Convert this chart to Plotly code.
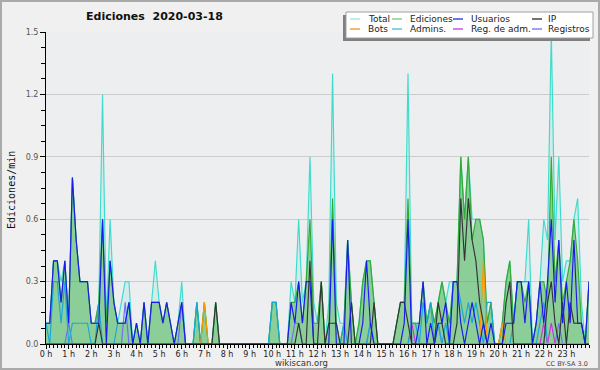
import plotly.graph_objects as go

# ---- data: edits per minute, 10-minute buckets from 0 h to 24 h (145 points) ----
n_points = 145
times = [i / 6 for i in range(n_points)]

total = [
    0.1, 0.1, 0.4, 0.4, 0.3, 0.4,   # 0 h
    0.1, 0.8, 0.5, 0.3, 0.3, 0.3,   # 1 h
    0.1, 0.1, 0.2, 1.2, 0.1, 0.6,   # 2 h
    0.2, 0.1, 0.2, 0.3, 0.3, 0.0,   # 3 h
    0.1, 0.0, 0.2, 0.0, 0.2, 0.4,   # 4 h
    0.2, 0.1, 0.2, 0.1, 0.0, 0.1,   # 5 h
    0.3, 0.0, 0.0, 0.0, 0.2, 0.0,   # 6 h
    0.2, 0.0, 0.0, 0.2, 0.0, 0.0,   # 7 h
    0.0, 0.0, 0.0, 0.0, 0.0, 0.0,   # 8 h
    0.0, 0.0, 0.0, 0.0, 0.0, 0.0,   # 9 h
    0.2, 0.2, 0.0, 0.0, 0.0, 0.3,   # 10 h
    0.2, 0.6, 0.2, 0.3, 0.9, 0.2,   # 11 h
    0.1, 0.3, 0.0, 0.2, 1.3, 0.2,   # 12 h
    0.1, 0.1, 0.5, 0.2, 0.0, 0.1,   # 13 h
    0.3, 0.4, 0.4, 0.2, 0.0, 0.0,   # 14 h
    0.0, 0.0, 0.0, 0.1, 0.2, 0.2,   # 15 h
    1.3, 0.1, 0.1, 0.1, 0.3, 0.1,   # 16 h
    0.2, 0.1, 0.2, 0.3, 0.2, 0.3,   # 17 h
    0.3, 0.3, 0.9, 0.6, 0.9, 0.6,   # 18 h
    0.6, 0.6, 0.5, 0.1, 0.2, 0.0,   # 19 h
    0.0, 0.1, 0.3, 0.4, 0.1, 0.3,   # 20 h
    0.3, 0.3, 0.6, 0.0, 0.1, 0.3,   # 21 h
    0.6, 0.5, 1.5, 0.5, 0.9, 0.3,   # 22 h
    0.4, 0.4, 0.6, 0.7, 0.2, 0.0,   # 23 h
    0.3,
]

ediciones = [
    0.1, 0.1, 0.4, 0.4, 0.2, 0.4,
    0.1, 0.8, 0.5, 0.3, 0.3, 0.3,
    0.1, 0.1, 0.2, 0.6, 0.1, 0.4,
    0.2, 0.1, 0.1, 0.1, 0.2, 0.0,
    0.1, 0.0, 0.2, 0.0, 0.2, 0.2,
    0.2, 0.1, 0.2, 0.1, 0.0, 0.1,
    0.2, 0.0, 0.0, 0.0, 0.2, 0.0,
    0.2, 0.0, 0.0, 0.2, 0.0, 0.0,
    0.0, 0.0, 0.0, 0.0, 0.0, 0.0,
    0.0, 0.0, 0.0, 0.0, 0.0, 0.0,
    0.2, 0.2, 0.0, 0.0, 0.0, 0.2,
    0.2, 0.3, 0.1, 0.3, 0.6, 0.1,
    0.1, 0.3, 0.0, 0.1, 0.7, 0.1,
    0.0, 0.1, 0.5, 0.2, 0.0, 0.1,
    0.3, 0.4, 0.4, 0.2, 0.0, 0.0,
    0.0, 0.0, 0.0, 0.1, 0.2, 0.2,
    0.7, 0.1, 0.1, 0.1, 0.3, 0.1,
    0.2, 0.1, 0.2, 0.3, 0.2, 0.1,
    0.3, 0.3, 0.9, 0.6, 0.9, 0.5,
    0.6, 0.6, 0.5, 0.1, 0.2, 0.0,
    0.0, 0.1, 0.3, 0.4, 0.1, 0.3,
    0.3, 0.2, 0.3, 0.0, 0.1, 0.3,
    0.3, 0.2, 0.9, 0.3, 0.5, 0.2,
    0.3, 0.4, 0.6, 0.4, 0.1, 0.0,
    0.3,
]

usuarios = [
    0.1, 0.1, 0.4, 0.4, 0.2, 0.4,
    0.1, 0.8, 0.5, 0.3, 0.3, 0.3,
    0.1, 0.1, 0.1, 0.6, 0.0, 0.4,
    0.2, 0.1, 0.1, 0.1, 0.2, 0.0,
    0.1, 0.0, 0.2, 0.0, 0.2, 0.2,
    0.2, 0.1, 0.2, 0.1, 0.0, 0.1,
    0.2, 0.0, 0.0, 0.0, 0.0, 0.0,
    0.0, 0.0, 0.0, 0.0, 0.0, 0.0,
    0.0, 0.0, 0.0, 0.0, 0.0, 0.0,
    0.0, 0.0, 0.0, 0.0, 0.0, 0.0,
    0.0, 0.0, 0.0, 0.0, 0.0, 0.2,
    0.1, 0.3, 0.1, 0.3, 0.3, 0.0,
    0.0, 0.0, 0.0, 0.0, 0.6, 0.0,
    0.0, 0.0, 0.5, 0.0, 0.0, 0.0,
    0.1, 0.4, 0.1, 0.0, 0.0, 0.0,
    0.0, 0.0, 0.0, 0.0, 0.0, 0.1,
    0.6, 0.0, 0.0, 0.1, 0.3, 0.0,
    0.1, 0.0, 0.1, 0.1, 0.2, 0.0,
    0.3, 0.3, 0.1, 0.0, 0.1, 0.2,
    0.1, 0.0, 0.1, 0.0, 0.1, 0.0,
    0.0, 0.0, 0.1, 0.1, 0.1, 0.3,
    0.3, 0.1, 0.3, 0.0, 0.1, 0.3,
    0.1, 0.3, 0.6, 0.2, 0.5, 0.1,
    0.3, 0.1, 0.5, 0.1, 0.1, 0.0,
    0.3,
]

ip = [
    0.0, 0.0, 0.0, 0.0, 0.0, 0.0,
    0.0, 0.0, 0.0, 0.0, 0.0, 0.0,
    0.0, 0.0, 0.1, 0.0, 0.0, 0.0,
    0.0, 0.0, 0.0, 0.0, 0.0, 0.0,
    0.0, 0.0, 0.0, 0.0, 0.0, 0.0,
    0.0, 0.0, 0.0, 0.0, 0.0, 0.0,
    0.0, 0.0, 0.0, 0.0, 0.0, 0.0,
    0.0, 0.0, 0.0, 0.2, 0.0, 0.0,
    0.0, 0.0, 0.0, 0.0, 0.0, 0.0,
    0.0, 0.0, 0.0, 0.0, 0.0, 0.0,
    0.0, 0.0, 0.0, 0.0, 0.0, 0.0,
    0.0, 0.1, 0.0, 0.0, 0.4, 0.0,
    0.0, 0.3, 0.0, 0.1, 0.1, 0.1,
    0.0, 0.0, 0.0, 0.2, 0.0, 0.0,
    0.0, 0.0, 0.0, 0.2, 0.0, 0.0,
    0.0, 0.0, 0.0, 0.1, 0.2, 0.2,
    0.1, 0.0, 0.0, 0.0, 0.0, 0.0,
    0.0, 0.0, 0.2, 0.1, 0.0, 0.0,
    0.0, 0.1, 0.7, 0.4, 0.7, 0.5,
    0.4, 0.2, 0.1, 0.0, 0.0, 0.0,
    0.0, 0.0, 0.2, 0.3, 0.0, 0.0,
    0.0, 0.0, 0.0, 0.0, 0.0, 0.0,
    0.0, 0.2, 0.3, 0.1, 0.0, 0.2,
    0.0, 0.2, 0.1, 0.1, 0.1, 0.0,
    0.0,
]

bots = [0.0] * 42 + [0.2] + [0.0] * 73 + [0.4] + [0.0] * 4 + [0.1] + [0.0] * 23

admins = [
    0.1, 0.0, 0.3, 0.3, 0.1, 0.3,
    0.0, 0.1, 0.1, 0.1, 0.1, 0.1,
    0.0, 0.0, 0.2, 0.0, 0.0, 0.0,
    0.0, 0.1, 0.1, 0.1, 0.2, 0.0,
    0.0, 0.0, 0.0, 0.0, 0.0, 0.0,
    0.0, 0.0, 0.0, 0.0, 0.0, 0.0,
    0.0, 0.0, 0.0, 0.0, 0.2, 0.0,
    0.0, 0.0, 0.0, 0.0, 0.0, 0.0,
    0.0, 0.0, 0.0, 0.0, 0.0, 0.0,
    0.0, 0.0, 0.0, 0.0, 0.0, 0.0,
    0.2, 0.2, 0.0, 0.0, 0.0, 0.0,
    0.0, 0.0, 0.0, 0.0, 0.0, 0.0,
    0.0, 0.0, 0.0, 0.0, 0.0, 0.0,
    0.0, 0.1, 0.0, 0.0, 0.0, 0.0,
    0.0, 0.0, 0.1, 0.0, 0.0, 0.0,
    0.0, 0.0, 0.0, 0.0, 0.0, 0.0,
    0.0, 0.1, 0.1, 0.0, 0.2, 0.1,
    0.2, 0.0, 0.1, 0.0, 0.1, 0.0,
    0.3, 0.3, 0.2, 0.1, 0.2, 0.1,
    0.2, 0.1, 0.0, 0.2, 0.2, 0.0,
    0.0, 0.0, 0.0, 0.0, 0.1, 0.3,
    0.3, 0.3, 0.3, 0.0, 0.0, 0.1,
    0.2, 0.0, 0.0, 0.0, 0.0, 0.0,
    0.0, 0.0, 0.0, 0.0, 0.0, 0.0,
    0.0,
]

reg_adm = [0.0] * 97 + [0.1] + [0.0] * 34 + [0.1, 0.0, 0.1] + [0.0] * 10

registros = (
    [0.0] * 6 + [0.1] + [0.0] * 14 + [0.2] + [0.0] * 14 + [0.2] + [0.0] * 29
    + [0.1, 0.1] + [0.0] * 18 + [0.1] + [0.0] * 17 + [0.1] + [0.0] * 31
    + [0.1] + [0.0] * 8
)

hour_ticks = list(range(24))
hour_labels = [f"{h} h" for h in hour_ticks]
y_ticks = [0.0, 0.3, 0.6, 0.9, 1.2, 1.5]
y_labels = ["0.0", "0.3", "0.6", "0.9", "1.2", "1.5"]

# ---- styling ----
C_TOTAL = "#3ddccb"
C_EDIC = "#33aa33"
C_USU = "#1a1aee"
C_IP = "#333333"
C_BOTS = "#ff9900"
C_ADM = "#18a8d8"
C_REGADM = "#cc33dd"
C_REG = "#6f6ff0"
LW = 1.15

fig = go.Figure()
fig.add_trace(go.Scatter(x=times, y=total, mode="lines", fill="tozeroy",
                         fillcolor="rgba(64,224,208,0.15)",
                         line=dict(color=C_TOTAL, width=LW), name="Total"))
fig.add_trace(go.Scatter(x=times, y=ediciones, mode="lines", fill="tozeroy",
                         fillcolor="rgba(50,170,50,0.45)",
                         line=dict(color=C_EDIC, width=LW), name="Ediciones"))
fig.add_trace(go.Scatter(x=times, y=registros, mode="lines",
                         line=dict(color=C_REG, width=LW), name="Registros"))
fig.add_trace(go.Scatter(x=times, y=reg_adm, mode="lines",
                         line=dict(color=C_REGADM, width=LW), name="Reg. de adm."))
fig.add_trace(go.Scatter(x=times, y=admins, mode="lines",
                         line=dict(color=C_ADM, width=LW), name="Admins."))
fig.add_trace(go.Scatter(x=times, y=bots, mode="lines",
                         line=dict(color=C_BOTS, width=LW), name="Bots"))
fig.add_trace(go.Scatter(x=times, y=ip, mode="lines",
                         line=dict(color=C_IP, width=LW), name="IP"))
fig.add_trace(go.Scatter(x=times, y=usuarios, mode="lines",
                         line=dict(color=C_USU, width=LW), name="Usuarios"))

L, R, T, B = 46, 589, 32, 344
W, H = 600, 370


def px(x):
    return (x - L) / (R - L)


def py(y):
    return (B - y) / (B - T)


shapes = [
    # outer border
    dict(type="rect", xref="paper", yref="paper", x0=px(1), x1=px(599), y0=py(1), y1=py(369),
         line=dict(color="#aaaaaa", width=2), fillcolor="rgba(0,0,0,0)", layer="below"),
    # legend shadow and box
    dict(type="rect", xref="paper", yref="paper", x0=px(343), x1=px(590), y0=py(15), y1=py(41),
         line=dict(width=0), fillcolor="#7f7f7f"),
    dict(type="rect", xref="paper", yref="paper", x0=px(346), x1=px(593), y0=py(12), y1=py(38),
         line=dict(color="#a0a0a0", width=1), fillcolor="#ffffff"),
]

annotations = [
    dict(text="Ediciones\u00a0\u00a02020-03-18", x=px(154), y=py(17), xref="paper", yref="paper",
         showarrow=False, xanchor="center", yanchor="middle",
         font=dict(family="DejaVu Sans", size=11, color="#111111", weight="bold")),
    dict(text="Ediciones/min", x=px(11), y=py(190), xref="paper", yref="paper",
         showarrow=False, textangle=-90, xanchor="center", yanchor="middle",
         font=dict(family="DejaVu Sans Mono", size=10, color="#111111")),
    dict(text="wikiscan.org", x=px(301), y=py(362.5), xref="paper", yref="paper",
         showarrow=False, xanchor="center", yanchor="middle",
         font=dict(family="DejaVu Sans", size=8.5, color="#333333")),
    dict(text="CC BY-SA 3.0", x=px(590), y=py(363.5), xref="paper", yref="paper",
         showarrow=False, xanchor="right", yanchor="middle",
         font=dict(family="DejaVu Sans", size=6.5, color="#444444")),
]

legend_items = [
    ("Total", "#a8e8e0", 350, 366, 19),
    ("Ediciones", "#88d088", 392, 408, 19),
    ("Usuarios", "#4444e8", 453, 469, 19),
    ("IP", "#444444", 532, 546, 19),
    ("Bots", "#f0a040", 350, 366, 29),
    ("Admins.", "#55c8e0", 392, 408, 29),
    ("Reg. de adm.", "#d050e0", 453, 469, 29),
    ("Registros", "#8080f0", 532, 546, 29),
]
for label, col, sx, tx, yy in legend_items:
    shapes.append(dict(type="line", xref="paper", yref="paper", x0=px(sx), x1=px(sx + 10),
                       y0=py(yy), y1=py(yy), line=dict(color=col, width=1.5)))
    annotations.append(dict(text=label, x=px(tx), y=py(yy), xref="paper", yref="paper",
                            showarrow=False, xanchor="left", yanchor="middle",
                            font=dict(family="DejaVu Sans", size=9, color="#222222")))

fig.update_layout(
    width=W, height=H,
    margin=dict(l=L, r=W - R, t=T, b=H - B, pad=0),
    paper_bgcolor="#f0f0f0",
    plot_bgcolor="#edeef0",
    showlegend=False,
    shapes=shapes,
    annotations=annotations,
    xaxis=dict(range=[0, 24], tickmode="array", tickvals=hour_ticks, ticktext=hour_labels,
               ticks="outside", ticklen=4, tickcolor="#000000", showline=True,
               linecolor="#000000", linewidth=1, showgrid=False, zeroline=False,
               ticklabelstandoff=-2,
               tickfont=dict(family="DejaVu Sans", size=8, color="#222222"),
               minor=dict(dtick=1 / 6, tick0=0, ticks="outside", ticklen=3,
                          tickcolor="#000000", showgrid=False)),
    yaxis=dict(range=[0, 1.5], tickmode="array", tickvals=y_ticks, ticktext=y_labels,
               ticks="outside", ticklen=5, tickcolor="#000000", showline=True,
               linecolor="#000000", linewidth=1, showgrid=True, gridcolor="#cccccc",
               gridwidth=1, zeroline=False,
               tickfont=dict(family="DejaVu Sans", size=8, color="#555555"),
               minor=dict(dtick=0.075, tick0=0, ticks="outside", ticklen=4,
                          tickcolor="#000000", showgrid=False)),
)

fig.write_html("out.html", config={"displayModeBar": False},
               post_script="document.body.style.margin='0px';")
